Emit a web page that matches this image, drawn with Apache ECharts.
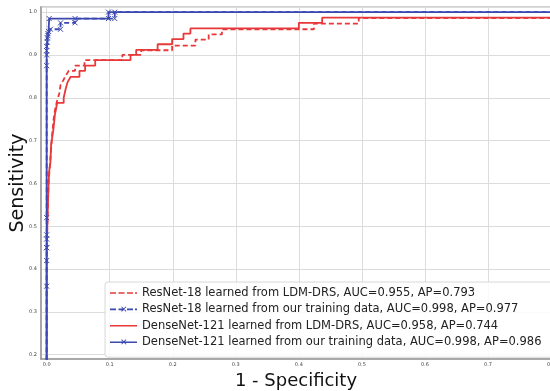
<!DOCTYPE html>
<html>
<head>
<meta charset="utf-8">
<title>ROC</title>
<script src="https://cdn.jsdelivr.net/npm/echarts@6/dist/echarts.min.js"></script>
<style>
  html, body { margin: 0; padding: 0; background: #fff; }
  #chart { width: 550px; height: 391px; }
</style>
</head>
<body>
<div id="chart"></div>
<script>
// [fpr, tpr] corner points
const resnetLdm = [
  [0, 0], [0, 0.42], [0.001, 0.5], [0.002, 0.55], [0.003, 0.6], [0.005, 0.64],
  [0.007, 0.68], [0.009, 0.72], [0.011, 0.75], [0.013, 0.77], [0.016, 0.79],
  [0.02, 0.81], [0.022, 0.83], [0.026, 0.84], [0.03, 0.851], [0.035, 0.863],
  [0.045, 0.863], [0.045, 0.875], [0.06, 0.875], [0.06, 0.888], [0.12, 0.888],
  [0.12, 0.9], [0.15, 0.9], [0.15, 0.911], [0.199, 0.911], [0.199, 0.922],
  [0.236, 0.922], [0.236, 0.936], [0.257, 0.936], [0.257, 0.948], [0.278, 0.948],
  [0.278, 0.96], [0.424, 0.96], [0.424, 0.973], [0.495, 0.973], [0.495, 0.986],
  [1, 0.986], [1, 1]
];
const resnetOurs = [
  [0, 0], [0, 0.45], [0, 0.9], [0, 0.92], [0.001, 0.94], [0.002, 0.95],
  [0.006, 0.96], [0.022, 0.96], [0.022, 0.975], [0.045, 0.975], [0.045, 0.985],
  [0.108, 0.985], [0.108, 1], [1, 1]
];
const densenetLdm = [
  [0, 0], [0, 0.45], [0.001, 0.5], [0.002, 0.55], [0.003, 0.6], [0.004, 0.63],
  [0.006, 0.65], [0.007, 0.69], [0.009, 0.71], [0.011, 0.73], [0.013, 0.76],
  [0.015, 0.775], [0.0165, 0.788], [0.027, 0.788], [0.027, 0.8], [0.03, 0.82],
  [0.033, 0.836], [0.038, 0.849], [0.052, 0.849], [0.052, 0.863], [0.061, 0.863],
  [0.061, 0.875], [0.077, 0.875], [0.077, 0.888], [0.133, 0.888], [0.133, 0.9],
  [0.142, 0.9], [0.142, 0.912], [0.176, 0.912], [0.176, 0.925], [0.199, 0.925],
  [0.199, 0.937], [0.217, 0.937], [0.217, 0.95], [0.228, 0.95], [0.228, 0.962],
  [0.4, 0.962], [0.4, 0.975], [0.437, 0.975], [0.437, 0.987], [1, 0.987], [1, 1]
];
const densenetOurs = [
  [0, 0], [0, 0.36], [0, 0.42], [0, 0.45], [0, 0.47], [0, 0.48], [0, 0.52],
  [0, 0.875], [0, 0.91], [0.001, 0.93], [0.002, 0.945], [0.003, 0.955],
  [0.004, 0.985], [0.098, 0.985], [0.098, 1], [1, 1]
];
const seriesNames = [
  'ResNet-18 learned from LDM-DRS, AUC=0.955, AP=0.793',
  'ResNet-18 learned from our training data, AUC=0.998, AP=0.977',
  'DenseNet-121 learned from LDM-DRS, AUC=0.958, AP=0.744',
  'DenseNet-121 learned from our training data, AUC=0.998, AP=0.986'
];

const RED = '#e8383a';
const BLUE = '#3a48b0';
const CROSS = 'path://M0,0L10,10M10,0L0,10';

// legend icons, 27x12 box; the two specks pin the bounding box so nothing stretches
const SPECKS = 'M0,0h0.02v0.02h-0.02zM26.98,11.98h0.02v0.02h-0.02z';
const DASHES = 'M0,5.2h6v1.6h-6zM8.5,5.2h6v1.6h-6zM17,5.2h6v1.6h-6zM25,5.2h2v1.6h-2z';
const SOLID = 'M0,5.2h27v1.6h-27z';
const XMARK = 'M11.2,3.7L11.8,3.1L16.4,7.7L15.8,8.3zM15.8,3.1L16.4,3.7L11.8,8.3L11.2,7.7z';
const legendIcons = [
  'path://' + SPECKS + DASHES,
  'path://' + SPECKS + DASHES + XMARK,
  'path://' + SPECKS + SOLID,
  'path://' + SPECKS + SOLID + XMARK
];

function makeLine(name, data, color, dashed, marked) {
  return {
    name: name,
    type: 'line',
    data: data,
    clip: true,
    silent: true,
    animation: false,
    symbol: marked ? CROSS : 'none',
    symbolSize: 5,
    showSymbol: marked,
    itemStyle: { color: color, borderColor: color, borderWidth: 1 },
    lineStyle: { color: color, width: 1.8, type: dashed ? [5, 3] : 'solid' }
  };
}

const chart = echarts.init(document.getElementById('chart'));
const font = 'DejaVu Sans';

chart.setOption({
  backgroundColor: '#fff',
  grid: {
    left: 41, top: 7, width: 510, height: 352,
    containLabel: false,
    outerBoundsMode: 'none',
    show: true, borderColor: '#cfcfcf', borderWidth: 2
  },
  // y title placed by hand, the axis name would not move with nameGap
  graphic: [{
    type: 'text',
    x: 18,
    y: 183,
    rotation: Math.PI / 2,
    silent: true,
    style: {
      text: 'Sensitivity',
      font: '19px "DejaVu Sans"',
      fill: '#111',
      align: 'center',
      verticalAlign: 'middle'
    }
  }],
  xAxis: {
    type: 'value',
    min: -0.009,
    max: 0.8,
    splitNumber: 8,
    name: '1 - Specificity',
    nameLocation: 'middle',
    nameGap: 8,
    nameTextStyle: { fontSize: 18, fontFamily: font, color: '#111' },
    axisLine: { onZero: false, lineStyle: { color: '#999', width: 1.5 } },
    axisTick: { show: false },
    axisLabel: {
      fontSize: 5, color: '#444', fontFamily: font, margin: 3,
      showMinLabel: false,
      formatter: v => v.toFixed(1)
    },
    splitLine: { lineStyle: { color: '#dcdcdc', width: 1 } }
  },
  yAxis: {
    type: 'value',
    min: 0.19,
    max: 1.012,
    splitNumber: 8,
    axisLine: { show: true, onZero: false, lineStyle: { color: '#999', width: 1.5 } },
    axisTick: { show: false },
    axisLabel: {
      fontSize: 5, color: '#444', fontFamily: font, margin: 4,
      showMinLabel: false, showMaxLabel: false,
      formatter: v => v.toFixed(1)
    },
    splitLine: { lineStyle: { color: '#dcdcdc', width: 1 } }
  },
  legend: {
    orient: 'vertical',
    left: 105,
    top: 282,
    padding: [5, 12, 9, 5],
    itemWidth: 27,
    itemHeight: 12,
    itemGap: 4.4,
    backgroundColor: 'rgba(255,255,255,0.85)',
    borderColor: '#d8d8d8',
    borderWidth: 1,
    borderRadius: 3,
    itemStyle: { borderWidth: 0 },
    textStyle: { fontSize: 11.5, lineHeight: 12, fontFamily: font, color: '#222' },
    data: seriesNames.map((n, i) => ({
      name: n,
      icon: legendIcons[i],
      itemStyle: { borderWidth: 0 }
    }))
  },
  series: [
    makeLine(seriesNames[0], resnetLdm, RED, true, false),
    makeLine(seriesNames[1], resnetOurs, BLUE, true, true),
    makeLine(seriesNames[2], densenetLdm, RED, false, false),
    makeLine(seriesNames[3], densenetOurs, BLUE, false, true)
  ]
});
</script>
</body>
</html>
